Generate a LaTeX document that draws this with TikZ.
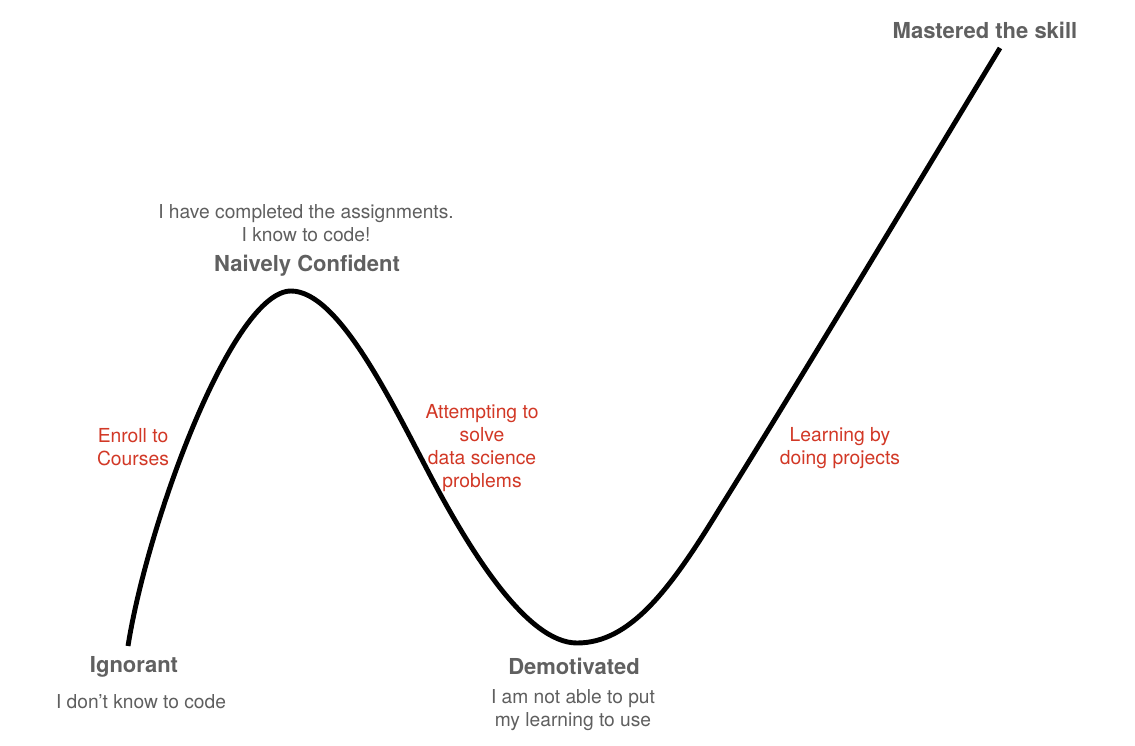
\documentclass[tikz,border=0pt]{standalone}
\usepackage{fontspec}
\setmainfont{TeX Gyre Heros}
\definecolor{headgray}{RGB}{96,96,96}
\definecolor{textgray}{RGB}{95,95,95}
\definecolor{notered}{RGB}{210,56,38}
\begin{document}
\begin{tikzpicture}[x=1pt,y=-1pt,
  head/.style={font=\fontsize{22}{24}\selectfont\bfseries, text=headgray, inner sep=0pt},
  quote/.style={font=\fontsize{19.2}{22.5}\selectfont, text=textgray, align=center, inner sep=0pt},
  note/.style={font=\fontsize{19.3}{23}\selectfont, text=notered, align=center, inner sep=0pt}]
\useasboundingbox[fill=white] (0,0) rectangle (1135,746);
% curve
\coordinate (c0) at (128,646);
\coordinate (c1) at (291,291);
\coordinate (c2) at (430,475);
\coordinate (c3) at (577,643);
\coordinate (c4) at (720,508);
\coordinate (c5) at (1000,48);
\draw[line width=4.9pt, line cap=butt, line join=round]
  (c0) .. controls (148,520) and (233,291) .. (c1)
       .. controls (338,291) and (390,399) .. (c2)
       .. controls (470,551) and (527,643) .. (c3)
       .. controls (630,643) and (670,590) .. (c4)
       .. controls (800,380) and (920,180) .. (c5);
% labels
\node[head] (mast) at (985,30) {Mastered the skill};
\node[quote] (assign) at (306,223) {I have completed the assignments.\\I know to code!};
\node[head] (naive) at (307,266) {Naively Confident};
\node[note] (enroll) at (133,447) {Enroll to\\Courses};
\node[note] (attempt) at (482,448) {Attempting to\\solve\\data science\\problems};
\node[note] (learn) at (840,448) {Learning by\\doing projects};
\node[head] (ign) at (134,667) {Ignorant};
\node[quote] (dont) at (141,702) {I don’t know to code};
\node[head] (demo) at (574,666) {Demotivated};
\node[quote] (notable) at (573,710) {I am not able to put\\my learning to use};
\end{tikzpicture}
\end{document}
